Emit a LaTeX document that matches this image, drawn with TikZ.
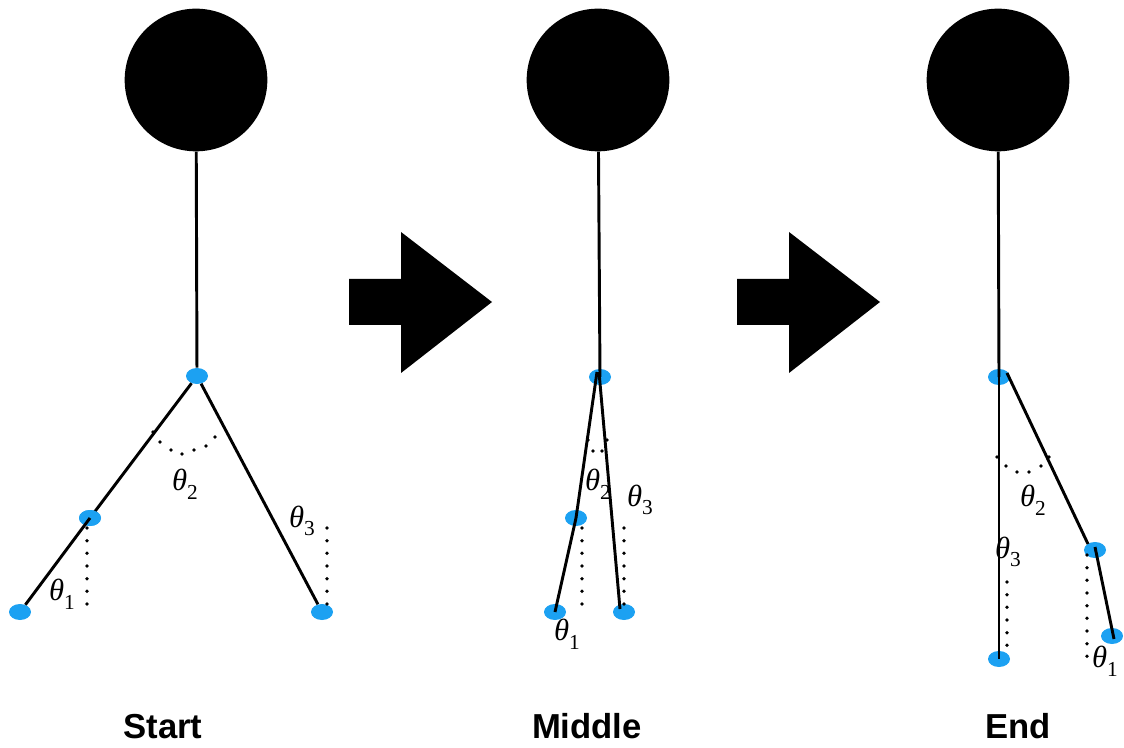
\documentclass[tikz,border=0pt]{standalone}
\usepackage{fontspec}
\setsansfont{Liberation Sans}
\newfontfamily\anglefont{Liberation Serif}
\usetikzlibrary{shapes.geometric}
\definecolor{jointblue}{RGB}{28,161,242}
% italic theta with an upright lowered index
\newcommand{\angletheta}[1]{{\itshape θ}\raisebox{-0.28em}{\fontsize{16}{18}\selectfont #1}}

\begin{document}
\begin{tikzpicture}[x=0.75pt,y=-0.75pt,
  head/.style={circle,fill=black,minimum size=107pt,inner sep=0pt},
  joint/.style={ellipse,fill=jointblue,minimum width=16.5pt,minimum height=12pt,inner sep=0pt},
  limb/.style={line width=2.2pt},
  angledots/.style={line width=2.8pt,line cap=round,dash pattern=on 0pt off 9.5pt},
  anglelabel/.style={inner sep=0pt,font=\anglefont\fontsize{23}{27}\selectfont},
  caption/.style={anchor=base,inner sep=0pt,font=\sffamily\bfseries\fontsize{26}{30}\selectfont},
  bigarrow/.style={fill=black}]
\useasboundingbox (0,0) rectangle (1124,748);

% ---------- Start ----------
\node[head]  (hd1) at (196,80) {};
\node[joint] (hp1) at (197,376) {};
\node[joint] (kn1) at (90,518) {};
\node[joint] (fl1) at (20,612) {};
\node[joint] (fr1) at (322,612) {};
\draw[limb] (hd1) -- (hp1);
\draw[limb] (hp1) -- (kn1.center);
\draw[limb] (hp1) -- (fr1);
\node[joint] at (kn1) {};
\draw[limb] (kn1.center) -- (fl1);
% angle markers
\draw[angledots] (87,528) -- (87,606);
\draw[angledots] (327,528) -- (327,606);
\foreach \p in {(153,432),(160,442),(171,450),(182,454),(194,450),(206,446),(215,437)}
  \fill \p circle (1.9);
\node[anglelabel] (t11) at (62,594) {\angletheta{1}};
\node[anglelabel] (t12) at (185,484) {\angletheta{2}};
\node[anglelabel] (t13) at (302,521) {\angletheta{3}};
\node[caption] (c1) at (163,738) {Start};

% ---------- first arrow ----------
\fill[bigarrow] (349,279) -- (401,279) -- (401,232) -- (492,302)
  -- (401,373) -- (401,325) -- (349,325) -- cycle;

% ---------- Middle ----------
\node[head]  (hd2) at (598,80) {};
\node[joint] (hp2) at (600,377) {};
\node[joint] (kn2) at (576,518) {};
\node[joint] (fl2) at (555,612) {};
\node[joint] (fr2) at (624,612) {};
\draw[limb] (hd2) -- (hp2.center);
\draw[limb] (597,372) -- (kn2.center);
\draw[limb] (kn2.center) -- (fl2.center);
\draw[limb] (599,372) -- (620,609);
\draw[angledots] (582,528) -- (582,606);
\draw[angledots] (624,528) -- (624,606);
\foreach \p in {(588,440),(593,451),(602,451),(607,440)}
  \fill \p circle (1.9);
\node[anglelabel] (t21) at (567,634) {\angletheta{1}};
\node[anglelabel] (t22) at (598,484) {\angletheta{2}};
\node[anglelabel] (t23) at (640,500) {\angletheta{3}};
\node[caption] (c2) at (587,738) {Middle};

% ---------- second arrow ----------
\fill[bigarrow] (737,279) -- (789,279) -- (789,232) -- (880,302)
  -- (789,373) -- (789,325) -- (737,325) -- cycle;

% ---------- End ----------
\node[head]  (hd3) at (998,80) {};
\node[joint] (hp3) at (999,377) {};
\node[joint] (fl3) at (999,659) {};
\node[joint] (kn3) at (1095,550) {};
\node[joint] (fr3) at (1112,636) {};
\draw[limb] (hd3) -- (hp3.center);
\draw[limb] (hp3.center) -- (fl3.center);
\draw[limb] (1007,373) -- (1088,544);
\draw[limb] (1095,547) -- (1114,639);
\draw[angledots] (1007,582) -- (1007,658);
\draw[angledots] (1087,555) -- (1087,669);
\foreach \p in {(997,457),(1006,466),(1017,472),(1029,472),(1041,466),(1049,457)}
  \fill \p circle (1.9);
\node[anglelabel] (t31) at (1105,661) {\angletheta{1}};
\node[anglelabel] (t32) at (1033,500) {\angletheta{2}};
\node[anglelabel] (t33) at (1008,552) {\angletheta{3}};
\node[caption] (c3) at (1018,738) {End};
\end{tikzpicture}
\end{document}
